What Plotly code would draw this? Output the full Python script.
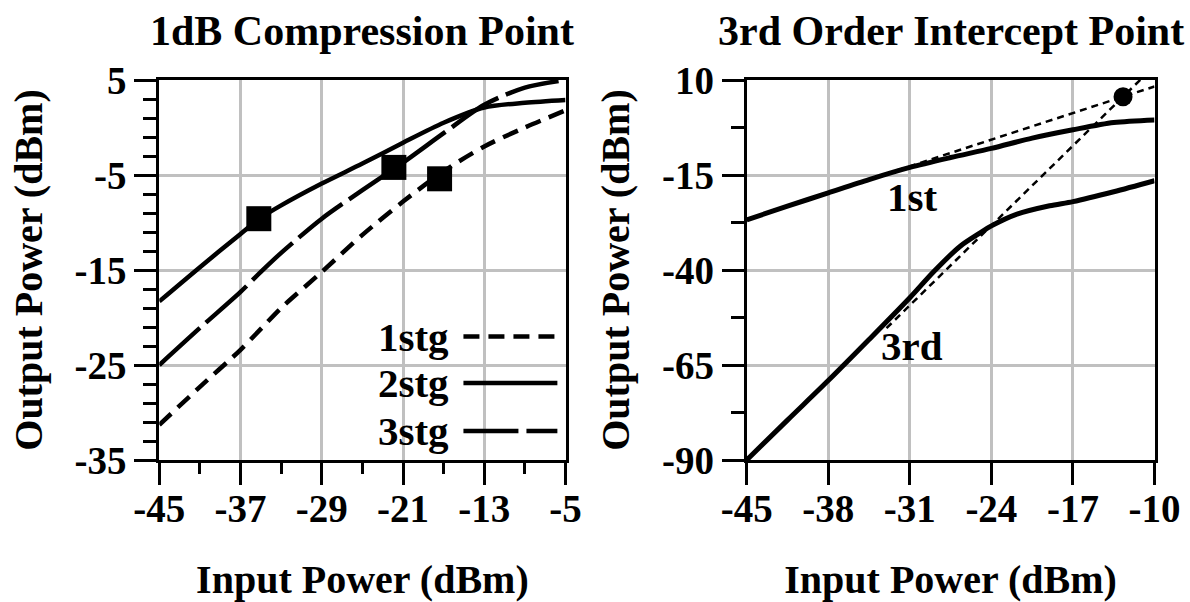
import plotly.graph_objects as go

# ---------------- data: left panel (1 dB compression) ----------------
pin_1db = [-45, -41, -37, -35, -33, -29, -25, -21, -17, -13, -9, -5]
pout_1stg = [-31.3, -27.3, -23.4, -21.2, -19.0, -15.2, -11.3, -7.8, -4.6, -2.0, 0.0, 1.8]
pout_2stg = [-18.3, -14.7, -11.2, -9.5, -8.2, -5.9, -3.8, -1.6, 0.5, 2.1, 2.6, 2.9]
pout_3stg = [-25.0, -21.1, -17.3, -15.2, -13.2, -9.6, -6.6, -3.7, -0.6, 2.4, 4.2, 5.0]
p1db_x = [-17.4, -35.2, -21.9]
p1db_y = [-5.4, -9.6, -4.2]
stage_names = ["1stg", "2stg", "3stg"]
left_xticks = [-45, -37, -29, -21, -13, -5]
left_xtext = ["-45", "-37", "-29", "-21", "-13", "-5"]
left_yticks = [5, -5, -15, -25, -35]
left_ytext = ["5", "-5", "-15", "-25", "-35"]

# ---------------- data: right panel (IP3) ----------------
pin_1st = [-45, -41.5, -38, -34.5, -31, -27.5, -24, -20.5, -17, -13.5, -10]
pout_1st = [-26.8, -23.2, -19.7, -16.2, -13.0, -10.4, -8.0, -5.3, -3.1, -1.2, -0.5]
pin_3rd = [-45, -41.5, -38, -34.5, -31, -29, -26.7, -25, -24, -21.8, -19, -17, -13.5, -10]
pout_3rd = [-90.0, -79.5, -69.1, -58.3, -47.3, -40.6, -33.8, -30.3, -28.4, -25.3, -23.1, -22.0, -19.4, -16.5]
fit1_x = [-35, -10]
fit1_y = [-16.7, 8.3]
fit3_x = [-33, -11.0]
fit3_y = [-55.3, 10.7]
ip3_x = [-12.7]
ip3_y = [5.6]
right_xticks = [-45, -38, -31, -24, -17, -10]
right_xtext = ["-45", "-38", "-31", "-24", "-17", "-10"]
right_yticks = [10, -15, -40, -65, -90]
right_ytext = ["10", "-15", "-40", "-65", "-90"]

FONT = "Liberation Serif"
TICK = dict(family=FONT, size=39, color="black", weight="bold")
ATIT = dict(family=FONT, size=40, color="black", weight="bold")
GRID = "#c0c0c0"

dash_1 = "16px,9px"
dash_3 = "55px,8px"
dash_fit = "7px,5px"

fig = go.Figure()

# left panel curves
fig.add_trace(go.Scatter(x=pin_1db, y=pout_1stg, mode="lines", xaxis="x", yaxis="y",
                         line=dict(color="black", width=4.5, dash=dash_1, shape="spline", smoothing=0.8),
                         showlegend=False))
fig.add_trace(go.Scatter(x=pin_1db, y=pout_2stg, mode="lines", xaxis="x", yaxis="y",
                         line=dict(color="black", width=4.5, shape="spline", smoothing=0.8),
                         showlegend=False))
fig.add_trace(go.Scatter(x=pin_1db, y=pout_3stg, mode="lines", xaxis="x", yaxis="y",
                         line=dict(color="black", width=4.5, dash=dash_3, shape="spline", smoothing=0.8),
                         showlegend=False))
fig.add_trace(go.Scatter(x=p1db_x, y=p1db_y, mode="markers", xaxis="x", yaxis="y",
                         marker=dict(symbol="square", size=25, color="black"),
                         showlegend=False, cliponaxis=False))

# right panel curves
fig.add_trace(go.Scatter(x=fit1_x, y=fit1_y, mode="lines", xaxis="x2", yaxis="y2",
                         line=dict(color="black", width=2.5, dash=dash_fit), showlegend=False))
fig.add_trace(go.Scatter(x=fit3_x, y=fit3_y, mode="lines", xaxis="x2", yaxis="y2",
                         line=dict(color="black", width=2.5, dash=dash_fit), showlegend=False))
fig.add_trace(go.Scatter(x=pin_1st, y=pout_1st, mode="lines", xaxis="x2", yaxis="y2",
                         line=dict(color="black", width=5, shape="spline", smoothing=0.8),
                         showlegend=False))
fig.add_trace(go.Scatter(x=pin_3rd, y=pout_3rd, mode="lines", xaxis="x2", yaxis="y2",
                         line=dict(color="black", width=5, shape="spline", smoothing=0.8),
                         showlegend=False))
fig.add_trace(go.Scatter(x=ip3_x, y=ip3_y, mode="markers", xaxis="x2", yaxis="y2",
                         marker=dict(symbol="circle", size=19, color="black"),
                         showlegend=False))

common_axis = dict(showline=True, linecolor="black", linewidth=3, mirror=True,
                   ticks="outside", ticklen=22, tickwidth=3, tickcolor="black",
                   showgrid=True, gridcolor=GRID, gridwidth=2.5, zeroline=False,
                   tickfont=TICK, automargin=False)

ydom = [1 - 460 / 602, 1 - 80 / 602]

fig.update_layout(
    template="none",
    width=1190, height=602,
    margin=dict(l=0, r=0, t=0, b=0),
    paper_bgcolor="white", plot_bgcolor="white",
    showlegend=False,
    xaxis=dict(common_axis, domain=[159.3 / 1190, 565.5 / 1190], range=[-45, -5],
               tickmode="array", tickvals=left_xticks, ticktext=left_xtext,
               ticklabelstandoff=-10,
               minor=dict(dtick=4, tick0=-45, ticks="outside", ticklen=11, tickwidth=3,
                          tickcolor="black", showgrid=False),
               title=dict(text="Input Power (dBm)", font=ATIT, standoff=44),
               anchor="y"),
    yaxis=dict(common_axis, domain=ydom, range=[-35, 5],
               tickmode="array", tickvals=left_yticks, ticktext=left_ytext,
               minor=dict(dtick=2, tick0=-35, ticks="outside", ticklen=13, tickwidth=3,
                          tickcolor="black", showgrid=False),
               title=dict(text="Output Power (dBm)", font=ATIT, standoff=20),
               anchor="x"),
    xaxis2=dict(common_axis, domain=[746.7 / 1190, 1154.5 / 1190], range=[-45, -10],
                tickmode="array", tickvals=right_xticks, ticktext=right_xtext,
                ticklabelstandoff=-10,
                title=dict(text="Input Power (dBm)", font=ATIT, standoff=46),
                anchor="y2"),
    yaxis2=dict(common_axis, domain=ydom, range=[-90, 10],
                tickmode="array", tickvals=right_yticks, ticktext=right_ytext,
                minor=dict(dtick=12.5, tick0=-90, ticks="outside", ticklen=13, tickwidth=3,
                           tickcolor="black", showgrid=False),
                title=dict(text="Output Power (dBm)", font=ATIT, standoff=20),
                anchor="x2"),
)

TITLE = dict(family=FONT, size=42, color="black", weight="bold")
ANN = dict(family=FONT, size=41, color="black", weight="bold")

annotations = [
    dict(text="1dB Compression Point", xref="paper", yref="paper",
         x=362 / 1190, y=1 - 31 / 602, xanchor="center", yanchor="middle",
         showarrow=False, font=TITLE),
    dict(text="3rd Order Intercept Point", xref="paper", yref="paper",
         x=951 / 1190, y=1 - 31 / 602, xanchor="center", yanchor="middle",
         showarrow=False, font=TITLE),
    dict(text="1st", xref="x2", yref="y2", x=-30.8, y=-20.9, xanchor="center",
         yanchor="middle", showarrow=False, font=ANN),
    dict(text="3rd", xref="x2", yref="y2", x=-30.8, y=-60.1, xanchor="center",
         yanchor="middle", showarrow=False, font=ANN),
]

# hand-made legend (text left of line sample, as in the original)
leg_rows_y = [-22.0, -26.9, -31.95]
leg_dashes = [dash_1, "solid", dash_3]
shapes = []
for name, yy, dsh in zip(stage_names, leg_rows_y, leg_dashes):
    annotations.append(dict(text=name, xref="x", yref="y", x=-16.3, y=yy,
                            xanchor="right", yanchor="middle", showarrow=False, font=ANN))
    shapes.append(dict(type="line", xref="x", yref="y", x0=-15.05, x1=-5.8, y0=yy, y1=yy,
                       line=dict(color="black", width=4.5, dash=dsh)))

fig.update_layout(annotations=annotations, shapes=shapes)

fig.write_html("out.html")
